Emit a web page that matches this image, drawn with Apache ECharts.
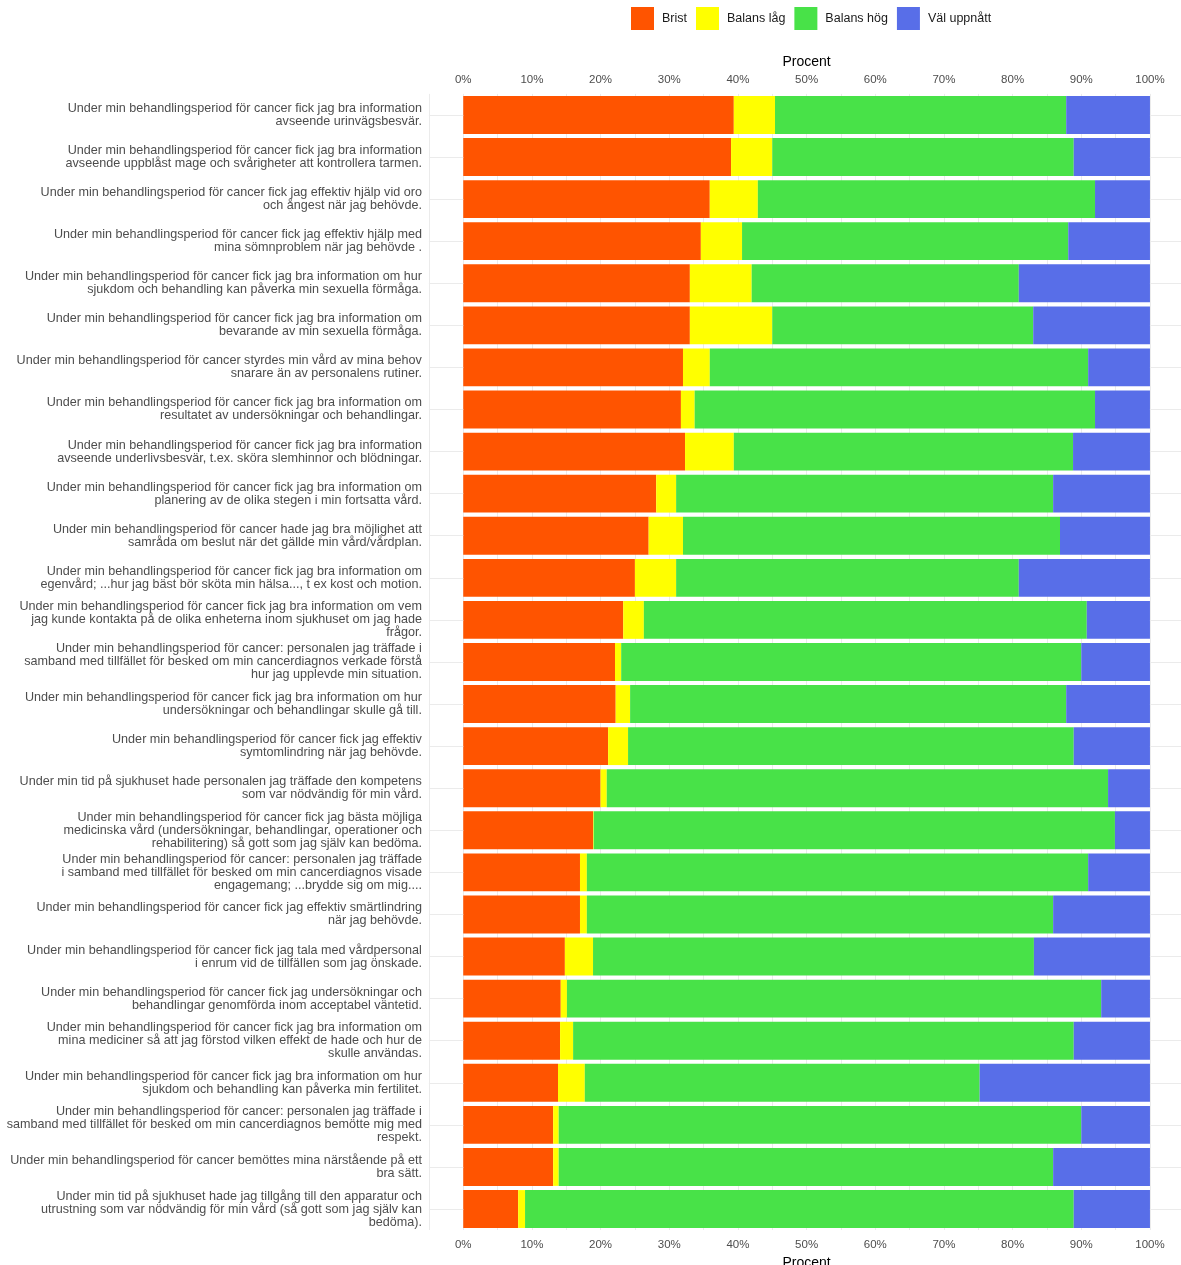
<!DOCTYPE html>
<html>
<head>
<meta charset="utf-8">
<script src="https://cdn.jsdelivr.net/npm/echarts@6/dist/echarts.min.js"></script>
<style>
html,body{margin:0;padding:0;background:#fff;}
#chart{width:1181px;height:1265px;}
</style>
</head>
<body>
<div id="chart"></div>
<script>
const categories = [
  "Under min behandlingsperiod för cancer fick jag bra information\navseende urinvägsbesvär.",
  "Under min behandlingsperiod för cancer fick jag bra information\navseende uppblåst mage och svårigheter att kontrollera tarmen.",
  "Under min behandlingsperiod för cancer fick jag effektiv hjälp vid oro\noch ångest när jag behövde.",
  "Under min behandlingsperiod för cancer fick jag effektiv hjälp med\nmina sömnproblem när jag behövde .",
  "Under min behandlingsperiod för cancer fick jag bra information om hur\nsjukdom och behandling kan påverka min sexuella förmåga.",
  "Under min behandlingsperiod för cancer fick jag bra information om\nbevarande av min sexuella förmåga.",
  "Under min behandlingsperiod för cancer styrdes min vård av mina behov\nsnarare än av personalens rutiner.",
  "Under min behandlingsperiod för cancer fick jag bra information om\nresultatet av undersökningar och behandlingar.",
  "Under min behandlingsperiod för cancer fick jag bra information\navseende underlivsbesvär, t.ex. sköra slemhinnor och blödningar.",
  "Under min behandlingsperiod för cancer fick jag bra information om\nplanering av de olika stegen i min fortsatta vård.",
  "Under min behandlingsperiod för cancer hade jag bra möjlighet att\nsamråda om beslut när det gällde min vård/vårdplan.",
  "Under min behandlingsperiod för cancer fick jag bra information om\negenvård; ...hur jag bäst bör sköta min hälsa..., t ex kost och motion.",
  "Under min behandlingsperiod för cancer fick jag bra information om vem\njag kunde kontakta på de olika enheterna inom sjukhuset om jag hade\nfrågor.",
  "Under min behandlingsperiod för cancer: personalen jag träffade i\nsamband med tillfället för besked om min cancerdiagnos verkade förstå\nhur jag upplevde min situation.",
  "Under min behandlingsperiod för cancer fick jag bra information om hur\nundersökningar och behandlingar skulle gå till.",
  "Under min behandlingsperiod för cancer fick jag effektiv\nsymtomlindring när jag behövde.",
  "Under min tid på sjukhuset hade personalen jag träffade den kompetens\nsom var nödvändig för min vård.",
  "Under min behandlingsperiod för cancer fick jag bästa möjliga\nmedicinska vård (undersökningar, behandlingar, operationer och\nrehabilitering) så gott som jag själv kan bedöma.",
  "Under min behandlingsperiod för cancer: personalen jag träffade\ni samband med tillfället för besked om min cancerdiagnos visade\nengagemang; ...brydde sig om mig....",
  "Under min behandlingsperiod för cancer fick jag effektiv smärtlindring\nnär jag behövde.",
  "Under min behandlingsperiod för cancer fick jag tala med vårdpersonal\ni enrum vid de tillfällen som jag önskade.",
  "Under min behandlingsperiod för cancer fick jag undersökningar och\nbehandlingar genomförda inom acceptabel väntetid.",
  "Under min behandlingsperiod för cancer fick jag bra information om\nmina mediciner så att jag förstod vilken effekt de hade och hur de\nskulle användas.",
  "Under min behandlingsperiod för cancer fick jag bra information om hur\nsjukdom och behandling kan påverka min fertilitet.",
  "Under min behandlingsperiod för cancer: personalen jag träffade i\nsamband med tillfället för besked om min cancerdiagnos bemötte mig med\nrespekt.",
  "Under min behandlingsperiod för cancer bemöttes mina närstående på ett\nbra sätt.",
  "Under min tid på sjukhuset hade jag tillgång till den apparatur och\nutrustning som var nödvändig för min vård (så gott som jag själv kan\nbedöma)."
];

const seriesNames = ["Brist", "Balans låg", "Balans hög", "Väl uppnått"];

const brist      = [39.4, 39.0, 35.9, 34.6, 33.0, 33.0, 32.0, 31.7, 32.3, 28.1, 27.0, 25.0, 23.3, 22.1, 22.2, 21.1, 20.0, 18.9, 17.0, 17.0, 14.8, 14.2, 14.1, 13.8, 13.1, 13.1, 8.0];
const balansLag  = [6.0, 6.0, 7.0, 6.0, 9.0, 12.0, 3.9, 2.0, 7.1, 2.9, 5.0, 6.0, 3.0, 0.9, 2.1, 2.9, 0.9, 0.1, 1.0, 1.0, 4.1, 0.9, 1.9, 3.9, 0.8, 0.8, 1.0];
const balansHog  = [42.4, 43.9, 49.1, 47.5, 38.9, 38.0, 55.1, 58.3, 49.4, 54.9, 54.9, 49.9, 64.5, 67.0, 63.5, 64.9, 73.0, 75.9, 73.0, 67.9, 64.2, 77.8, 72.9, 57.5, 76.1, 72.0, 79.9];
const valUppnatt = [12.2, 11.1, 8.0, 11.9, 19.1, 17.0, 9.0, 8.0, 11.2, 14.1, 13.1, 19.1, 9.2, 10.0, 12.2, 11.1, 6.1, 5.1, 9.0, 14.1, 16.9, 7.1, 11.1, 24.8, 10.0, 14.1, 11.1];

const tickValues = [0, 10, 20, 30, 40, 50, 60, 70, 80, 90, 100];
const tickLabels = ["0%", "10%", "20%", "30%", "40%", "50%", "60%", "70%", "80%", "90%", "100%"];

const colors = ["#FF5400", "#FFFF00", "#48E248", "#586EE8"];
const FONT = "'Liberation Sans', Arial, sans-serif";
const X_MIN = -5, X_MAX = 105;

function tickFormatter(v) {
  const i = tickValues.indexOf(Math.round(v * 1000) / 1000);
  return i >= 0 ? tickLabels[i] : "";
}

const xBase = {
  type: "value",
  min: X_MIN,
  max: X_MAX,
  interval: 5,
  axisLine: { show: false },
  axisTick: { show: false },
  name: "Procent",
  nameLocation: "middle",
  nameTextStyle: { fontFamily: FONT, fontSize: 14, color: "#000" },
  axisLabel: { formatter: tickFormatter, fontFamily: FONT, fontSize: 11.5, color: "#4d4d4d" }
};

const chart = echarts.init(document.getElementById("chart"), null, { renderer: "canvas" });

const dataSeries = [brist, balansLag, balansHog, valUppnatt];

const series = dataSeries.map((d, i) => ({
  name: seriesNames[i],
  type: "bar",
  stack: "total",
  xAxisIndex: 0,
  yAxisIndex: 0,
  barCategoryGap: "10%",
  itemStyle: { color: colors[i] },
  emphasis: { disabled: true },
  z: 3,
  data: d
}));

// horizontal grid lines at category centres (visible only outside the 0-100 range)
const gridSegments = [];
categories.forEach((c, i) => {
  gridSegments.push([{ xAxis: X_MIN, yAxis: i }, { xAxis: tickValues[0], yAxis: i }]);
  gridSegments.push([{ xAxis: tickValues[tickValues.length - 1], yAxis: i }, { xAxis: X_MAX, yAxis: i }]);
});

series.push({
  type: "line",
  name: "_grid",
  data: [],
  z: 1,
  silent: true,
  markLine: {
    silent: true,
    symbol: "none",
    animation: false,
    label: { show: false },
    lineStyle: { color: "#ebebeb", width: 1, type: "solid" },
    data: gridSegments
  }
});

chart.setOption({
  animation: false,
  backgroundColor: "#fff",
  textStyle: { fontFamily: FONT },
  legend: {
    data: seriesNames,
    top: 7,
    left: 631,
    padding: 0,
    itemWidth: 23,
    itemHeight: 23,
    itemGap: 9,
    icon: "rect",
    selectedMode: false,
    textStyle: { fontFamily: FONT, fontSize: 12.5, color: "#1a1a1a", padding: [0, 0, 0, 3] }
  },
  grid: {
    left: 428.9,
    width: 755.4,
    top: 93.9,
    height: 27 * 42.08,
    outerBoundsMode: "none",
    containLabel: false
  },
  xAxis: [
    Object.assign({}, xBase, {
      position: "bottom",
      nameGap: 20,
      axisLabel: Object.assign({}, xBase.axisLabel, { margin: 9 }),
      splitLine: { show: true, showMinLine: true, showMaxLine: true, lineStyle: { color: "#ebebeb", width: 1 } }
    }),
    Object.assign({}, xBase, {
      position: "top",
      nameGap: 22,
      axisLabel: Object.assign({}, xBase.axisLabel, { margin: 8 }),
      splitLine: { show: false }
    })
  ],
  yAxis: [{
    type: "category",
    inverse: true,
    data: categories,
    axisLine: { show: false },
    axisTick: { show: false },
    splitLine: { show: false },
    axisLabel: {
      fontFamily: FONT,
      fontSize: 12.6,
      lineHeight: 13,
      color: "#4d4d4d",
      margin: 7,
      align: "right",
      interval: 0,
      padding: [3, 0, 0, 0]
    }
  }],
  series: series
});
</script>
</body>
</html>
